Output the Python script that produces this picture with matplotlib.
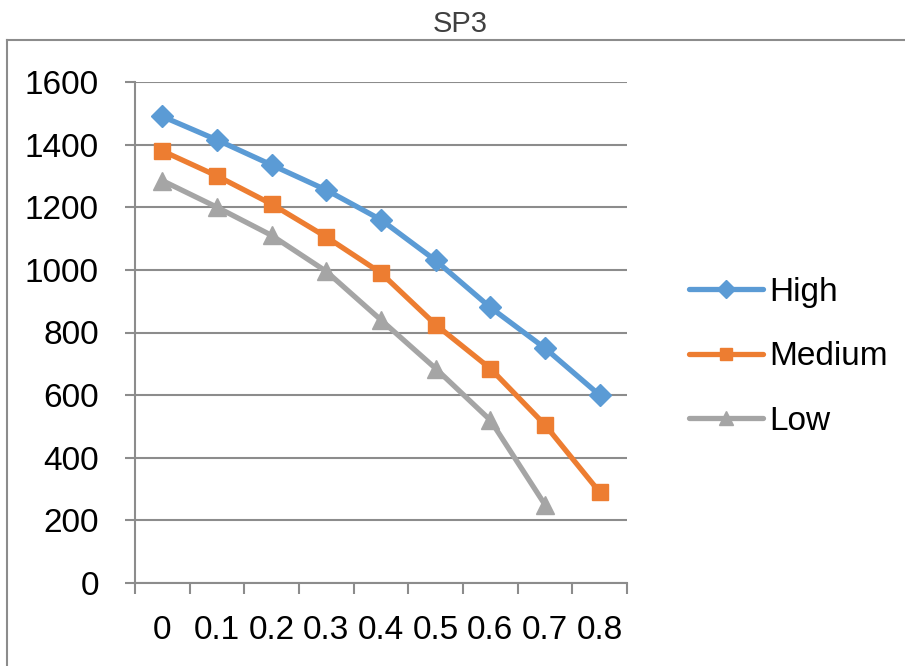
import numpy as np
import matplotlib
matplotlib.use("Agg")
import matplotlib.pyplot as plt
from matplotlib.lines import Line2D

categories = ["0", "0.1", "0.2", "0.3", "0.4", "0.5", "0.6", "0.7", "0.8"]
high = [1490, 1415, 1335, 1255, 1160, 1030, 880, 750, 600]
medium = [1380, 1300, 1210, 1105, 990, 825, 685, 505, 290]
low = [1285, 1200, 1110, 995, 840, 685, 520, 250, np.nan]
yticks = [0, 200, 400, 600, 800, 1000, 1200, 1400, 1600]
title = "SP3"

plt.rcParams['font.family'] = ['Liberation Sans', 'DejaVu Sans']

fig = plt.figure(figsize=(9.05, 6.66), dpi=100)
frame_c = '#8c8c8c'
ftop = 1 - 40/666
fleft = 7/905
fig.add_artist(Line2D([fleft, 1.0], [ftop, ftop], transform=fig.transFigure,
                      color=frame_c, lw=1.5, zorder=0))
fig.add_artist(Line2D([fleft, fleft], [0.0, ftop], transform=fig.transFigure,
                      color=frame_c, lw=1.5, zorder=0))

ax = fig.add_axes([135/905, 1 - 583/666, (627 - 135)/905, (583 - 82)/666])

x = np.arange(len(categories))
grid_c = '#8c8c8c'
ax.plot(x, high, color='#5B9BD5', lw=3.8, marker='D', ms=11, label='High', zorder=3,
        solid_capstyle='round')
ax.plot(x, medium, color='#ED7D31', lw=3.8, marker='s', ms=11.5, label='Medium', zorder=3,
        solid_capstyle='round')
ax.plot(x, low, color='#A5A5A5', lw=3.8, marker='^', ms=13, label='Low', zorder=3,
        solid_capstyle='round')

ax.set_xlim(-0.5, len(categories) - 0.5)
ax.set_ylim(0, 1600)
ax.set_yticks(yticks)
ax.set_yticklabels([str(v) for v in yticks])
ax.yaxis.grid(True, color=grid_c, lw=1.5)
ax.set_axisbelow(True)

ax.set_xticks(np.arange(-0.5, len(categories)), minor=False)
ax.set_xticklabels([])
ax.set_xticks(x, minor=True)
ax.set_xticklabels(categories, minor=True)

for s in ['top', 'right']:
    ax.spines[s].set_visible(False)
for s in ['left', 'bottom']:
    ax.spines[s].set_color(grid_c)
    ax.spines[s].set_linewidth(1.5)

ax.tick_params(axis='y', which='major', length=7, width=1.5, color=grid_c, pad=19, labelsize=24)
ax.tick_params(axis='x', which='major', length=8, width=1.5, color=grid_c, direction='out')
ax.tick_params(axis='x', which='minor', length=0, pad=23, labelsize=24)

fig.text(460/905, 1 - 24/666, title, ha='center', va='center', fontsize=21, color='#404040')

fig.legend(loc='center left', bbox_to_anchor=(676/905, 1 - 357/666), frameon=False,
           fontsize=24, handlelength=2.2, handletextpad=0.2, labelspacing=1.0,
           markerscale=0.8, borderaxespad=0)

fig.savefig("out.png", dpi=100)
